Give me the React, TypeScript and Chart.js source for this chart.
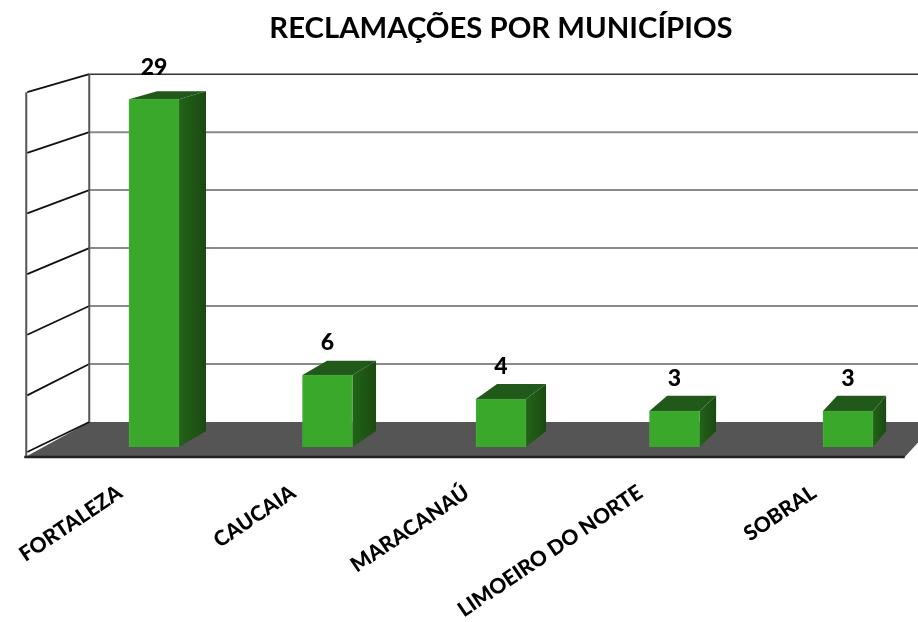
import React, { useEffect, useRef } from "react";
import { Chart, registerables } from "chart.js";

Chart.register(...registerables);

const categories = ["FORTALEZA", "CAUCAIA", "MARACANAÚ", "LIMOEIRO DO NORTE", "SOBRAL"];
const complaints = [29, 6, 4, 3, 3];
const wallTicks = [0, 5, 10, 15, 20, 25, 30];
const chartTitle = "RECLAMAÇÕES POR MUNICÍPIOS";

const FONT = "Lato, Carlito, sans-serif";
const FACE = "#39a82b";
const SIDE_A = "#236318";
const SIDE_B = "#1a4a11";
const TOP = "#20591a";

const scene3d = {
  id: "scene3d",
  beforeDatasetsDraw(chart: any) {
    const { ctx, chartArea: a, scales } = chart;
    const y = scales.y;
    const base = y.getPixelForValue(0);
    const frontX = a.left - 41;
    const backX = a.left + 22;
    const frontY = (v: number) => base + 9 - (base - y.getPixelForValue(v)) * (364 / 360);
    const backY = (v: number) => base - 25 - (base - y.getPixelForValue(v)) * (348 / 360);
    ctx.save();

    // floor
    ctx.fillStyle = "#555555";
    ctx.beginPath();
    ctx.moveTo(frontX - 1, frontY(0) + 1);
    ctx.lineTo(backX, backY(0));
    ctx.lineTo(a.right + 2, backY(0));
    ctx.lineTo(a.right - 30, frontY(0) + 1);
    ctx.closePath();
    ctx.fill();
    ctx.strokeStyle = "#222222";
    ctx.lineWidth = 2.5;
    ctx.beginPath();
    ctx.moveTo(frontX - 2, frontY(0) + 1);
    ctx.lineTo(a.right - 30, frontY(0) + 1);
    ctx.stroke();

    // back wall grid
    wallTicks.forEach((v) => {
      const top = v === wallTicks[wallTicks.length - 1];
      ctx.strokeStyle = top ? "#333333" : "#8a8a8a";
      ctx.lineWidth = top ? 1.5 : 2;
      if (v === 0) return;
      ctx.beginPath();
      ctx.moveTo(backX, backY(v));
      ctx.lineTo(a.right, backY(v));
      ctx.stroke();
    });

    // side wall
    ctx.strokeStyle = "#111111";
    ctx.lineWidth = 1.8;
    wallTicks.forEach((v) => {
      ctx.beginPath();
      ctx.moveTo(frontX + 1, frontY(v) - (v === 0 ? 4 : 0));
      ctx.lineTo(backX, backY(v));
      ctx.stroke();
    });
    ctx.strokeStyle = "#555555";
    ctx.lineWidth = 2;
    ctx.beginPath();
    ctx.moveTo(frontX, frontY(30));
    ctx.lineTo(frontX, frontY(0));
    ctx.moveTo(backX, backY(30));
    ctx.lineTo(backX, backY(0));
    ctx.stroke();

    // bar depth faces
    chart.getDatasetMeta(0).data.forEach((bar: any) => {
      const left = bar.x - bar.width / 2;
      const right = bar.x + bar.width / 2;
      const dx = (x: number) => 30.6 - 0.02 * x;
      const dy = (py: number) => -16 + 0.023 * (base - py);
      const t = bar.y;
      const grad = ctx.createLinearGradient(right, 0, right + dx(right), 0);
      grad.addColorStop(0, SIDE_A);
      grad.addColorStop(1, SIDE_B);
      ctx.fillStyle = grad;
      ctx.beginPath();
      ctx.moveTo(right, t);
      ctx.lineTo(right + dx(right), t + dy(t));
      ctx.lineTo(right + dx(right), base + dy(base));
      ctx.lineTo(right, base);
      ctx.closePath();
      ctx.fill();
      ctx.fillStyle = TOP;
      ctx.beginPath();
      ctx.moveTo(left, t);
      ctx.lineTo(left + dx(left), t + dy(t));
      ctx.lineTo(right + dx(right), t + dy(t));
      ctx.lineTo(right, t);
      ctx.closePath();
      ctx.fill();
    });
    ctx.restore();
  },
  afterDatasetsDraw(chart: any) {
    const { ctx } = chart;
    ctx.save();
    ctx.fillStyle = "#000000";
    ctx.font = `900 23px ${FONT}`;
    ctx.textAlign = "center";
    ctx.textBaseline = "middle";
    chart.getDatasetMeta(0).data.forEach((bar: any, i: number) => {
      ctx.fillText(String(complaints[i]), bar.x, bar.y - 32);
    });
    ctx.restore();
  },
};

export default function App() {
  const ref = useRef<HTMLCanvasElement>(null);
  useEffect(() => {
    const chart = new Chart(ref.current as HTMLCanvasElement, {
      type: "bar",
      data: {
        labels: categories,
        datasets: [
          {
            label: "Reclamações",
            data: complaints,
            backgroundColor: FACE,
            borderColor: "#4bab3f",
            borderWidth: 1,
            barThickness: 50,
          },
        ],
      },
      options: {
        responsive: false,
        animation: false,
        layout: { padding: { left: 67.25, right: 0.25, top: 0, bottom: 0 } },
        plugins: {
          legend: { display: false },
          tooltip: { enabled: false },
          title: {
            display: true,
            text: chartTitle,
            fullSize: false,
            color: "#000000",
            font: { family: FONT, size: 29.3, weight: "bold" },
            padding: { top: 11, bottom: 41 },
          },
        },
        scales: {
          x: {
            grid: { display: false },
            border: { display: false },
            ticks: {
              color: "#000000",
              font: { family: FONT, size: 21, weight: "900" },
              autoSkip: false,
              minRotation: 34,
              maxRotation: 34,
              padding: 25,
              labelOffset: -34,
            },
            afterFit(scale: any) {
              scale.height = 175;
            },
          },
          y: {
            display: false,
            min: 0,
            max: 30,
          },
        },
      },
      plugins: [scene3d],
    } as any);
    return () => chart.destroy();
  }, []);
  return (
    <div style={{ position: "fixed", left: 0, top: 0, width: 918, height: 622, overflow: "hidden", background: "#ffffff" }}>
      <canvas ref={ref} width={935} height={622} style={{ display: "block" }} />
    </div>
  );
}
